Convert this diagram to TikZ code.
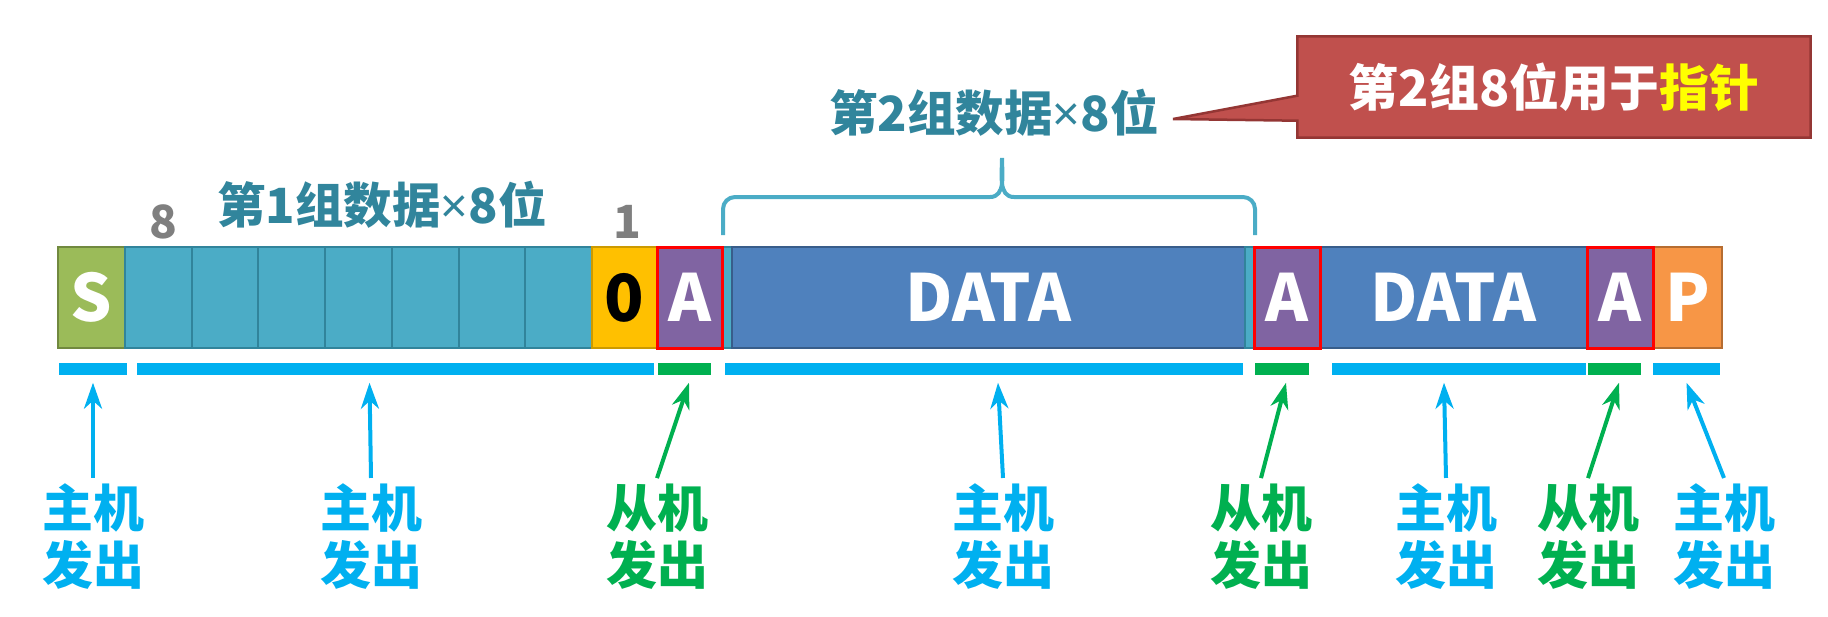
\documentclass[tikz,border=0pt]{standalone}
\usepackage{fontspec}
\setmainfont{Noto Sans CJK SC}
\newfontfamily\latinsym{Noto Sans}
\usepackage{tikz}
\usetikzlibrary{arrows.meta,positioning,calc,backgrounds}
\definecolor{busstart}{HTML}{9BBB59}
\definecolor{busstartdark}{HTML}{71893F}
\definecolor{busteal}{HTML}{4BACC6}
\definecolor{bustealdark}{HTML}{31849B}
\definecolor{busyellow}{HTML}{FFC000}
\definecolor{buspurple}{HTML}{8064A2}
\definecolor{busblue}{HTML}{4F81BD}
\definecolor{busbluedark}{HTML}{385D8A}
\definecolor{busorange}{HTML}{F79646}
\definecolor{busorangedark}{HTML}{B66D31}
\definecolor{busline}{HTML}{00B0F0}
\definecolor{busack}{HTML}{00B050}
\definecolor{bustitle}{HTML}{31859C}
\definecolor{busgray}{HTML}{7F7F7F}
\definecolor{busred}{HTML}{C0504D}
\definecolor{busreddark}{HTML}{943634}
\definecolor{bushigh}{HTML}{FFFF00}
\newcommand{\bytimes}{{\latinsym\bfseries ×}}

\begin{document}
\begin{tikzpicture}[
    x=0.1mm,
    y=0.1mm,
    cell/.style={rectangle, draw, line width=0.2mm, minimum height=10.1mm, inner sep=0pt, outer sep=0pt, text=white, font=\bfseries\fontsize{18.5}{20}\selectfont},
    ack/.style={cell, fill=buspurple, draw=red, line width=0.3mm},
    bar/.style={rectangle, inner sep=0pt, minimum height=1.2mm},
    host/.style={text=busline, align=center, font=\bfseries\fontsize{14.5}{16.2}\selectfont, inner sep=0.5mm},
    slave/.style={host, text=busack},
    up/.style={-{Stealth[length=2.6mm,width=1.8mm,inset=0.8mm]}, line width=0.4mm},
    title/.style={text=bustitle, font=\bfseries\fontsize{13.8}{15}\selectfont},
    bitnum/.style={text=busgray, font=\bfseries\fontsize{13}{15}\selectfont}
  ]
    \useasboundingbox (0,0) rectangle (1828,616);

    % the frame
    \node[cell, fill=busstart, draw=busstartdark, minimum width=6.7mm] (s) at (91.5,318.5) {S};
    \node[cell, fill=busteal, draw=bustealdark, minimum width=6.67mm] (c1) at (158.4,318.5) {};
    \node[cell, fill=busteal, draw=bustealdark, minimum width=6.67mm] (c2) at (225.1,318.5) {};
    \node[cell, fill=busteal, draw=bustealdark, minimum width=6.67mm] (c3) at (291.8,318.5) {};
    \node[cell, fill=busteal, draw=bustealdark, minimum width=6.67mm] (c4) at (358.5,318.5) {};
    \node[cell, fill=busteal, draw=bustealdark, minimum width=6.67mm] (c5) at (425.2,318.5) {};
    \node[cell, fill=busteal, draw=bustealdark, minimum width=6.67mm] (c6) at (491.9,318.5) {};
    \node[cell, fill=busteal, draw=bustealdark, minimum width=6.67mm] (c7) at (558.6,318.5) {};
    \node[cell, fill=busyellow, draw=busyellow!80!black, text=black, minimum width=6.5mm] (rw) at (624.5,318.5) {0};
    \node[cell, fill=busteal, draw=bustealdark, minimum width=1mm] (sl1) at (727,318.5) {};
    \node[cell, fill=busblue, draw=busbluedark, minimum width=51.3mm] (data1) at (988.5,318.5) {DATA};
    \node[cell, fill=busteal, draw=bustealdark, minimum width=0.9mm] (sl2) at (1249.5,318.5) {};
    \node[cell, fill=busblue, draw=busbluedark, minimum width=26.7mm] (data2) at (1453.5,318.5) {DATA};
    \node[cell, fill=busorange, draw=busorangedark, minimum width=6.9mm] (p) at (1687.5,318.5) {P};
    % ack slots on top
    \node[ack, minimum width=6.5mm] (a1) at (689.5,318.5) {A};
    \node[ack, minimum width=6.6mm] (a2) at (1287,318.5) {A};
    \node[ack, minimum width=6.6mm] (a3) at (1620,318.5) {A};

    \node[bitnum] (msb) at (163,394) {8};
    \node[bitnum] (lsb) at (627,394) {1};
    \node[title] (grp1) at (382,411) {第1组数据\bytimes 8位};
    \node[title] (grp2) at (994,503) {第2组数据\bytimes 8位};

    \draw[busteal, line width=0.4mm] (723,381) -- (723,407) to[out=90,in=180] (735,419) -- (990,419) to[out=0,in=-90] (1002,458) to[out=-90,in=180] (1014,419) -- (1243,419) to[out=0,in=90] (1255,407) -- (1255,381);

    % callout
    \node[text=white, font=\bfseries\fontsize{14.2}{16}\selectfont, minimum width=51.2mm, minimum height=10mm, inner sep=0pt] (note) at (1554,529) {第2组8位用于\textcolor{bushigh}{指针}};
    \coordinate (ptr) at (1173,497);
    \begin{pgfonlayer}{background}
      \draw[fill=busred, draw=busreddark, line width=0.25mm] (note.north west) -- (note.north east) -- (note.south east) -- (note.south west) -- ([yshift=1.7mm]note.south west) -- (ptr) -- ([yshift=4.2mm]note.south west) -- cycle;
    \end{pgfonlayer}

    % who drives the line
    \node[bar, fill=busline, minimum width=6.8mm] (d1) at (93,247) {};
    \node[bar, fill=busline, minimum width=51.7mm] (d2) at (395.5,247) {};
    \node[bar, fill=busack, minimum width=5.3mm] (d3) at (684.5,247) {};
    \node[bar, fill=busline, minimum width=51.8mm] (d4) at (984,247) {};
    \node[bar, fill=busack, minimum width=5.4mm] (d5) at (1282,247) {};
    \node[bar, fill=busline, minimum width=25.4mm] (d6) at (1459,247) {};
    \node[bar, fill=busack, minimum width=5.3mm] (d7) at (1614.5,247) {};
    \node[bar, fill=busline, minimum width=6.7mm] (d8) at (1686.5,247) {};

    \node[host] (h1) at (93,79.5) {主机\\发出};
    \node[host] (h2) at (371,79.5) {主机\\发出};
    \node[slave] (h3) at (657,79.5) {从机\\发出};
    \node[host] (h4) at (1003,79.5) {主机\\发出};
    \node[slave] (h5) at (1261,79.5) {从机\\发出};
    \node[host] (h6) at (1446,79.5) {主机\\发出};
    \node[slave] (h7) at (1588,79.5) {从机\\发出};
    \node[host] (h8) at (1724,79.5) {主机\\发出};

    \draw[up, busline] (h1.north) -- ([yshift=-0.7mm]d1.south);
    \draw[up, busline] (h2.north) -- ([xshift=-2.6mm,yshift=-0.7mm]d2.south);
    \draw[up, busack] (h3.north) -- ([xshift=0.45mm,yshift=-0.7mm]d3.south);
    \draw[up, busline] (h4.north) -- ([xshift=1.4mm,yshift=-0.7mm]d4.south);
    \draw[up, busack] (h5.north) -- ([xshift=0.4mm,yshift=-0.7mm]d5.south);
    \draw[up, busline] (h6.north) -- ([xshift=-1.5mm,yshift=-0.7mm]d6.south);
    \draw[up, busack] (h7.north) -- ([xshift=0.45mm,yshift=-0.7mm]d7.south);
    \draw[up, busline] (h8.north) -- ([yshift=-0.7mm]d8.south);
  \end{tikzpicture}
\end{document}
